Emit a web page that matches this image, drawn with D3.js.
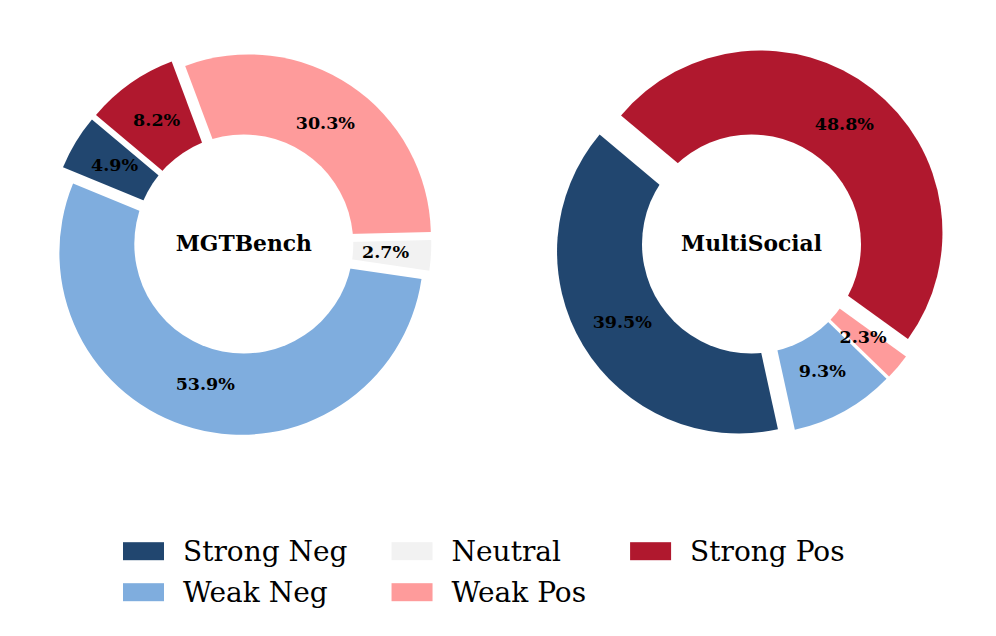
<!DOCTYPE html>
<html>
<head>
<meta charset="utf-8">
<script src="https://cdn.jsdelivr.net/npm/d3@7"></script>
<style>
  html, body { margin: 0; padding: 0; background: #ffffff; }
  svg { display: block; }
</style>
</head>
<body>
<svg id="chart" width="996" height="636"></svg>
<script>
// ---- data ----
const categories = ["Strong Neg", "Weak Neg", "Neutral", "Weak Pos", "Strong Pos"];
const mgtbenchValues = [4.9, 53.9, 2.7, 30.3, 8.2];
const multisocialValues = [39.5, 9.3, 0, 2.3, 48.8];
const datasetNames = ["MGTBench", "MultiSocial"];
const colors = ["#21466f", "#7fadde", "#f2f2f2", "#fe9b9b", "#b0182e"];
const mgtbenchExplode = [0.08, 0.05, 0.03, 0.05, 0.08];
const multisocialExplode = [0.08, 0.05, 0.05, 0.05, 0.08];

// ---- layout ----
const svg = d3.select("#chart");
const R = 182, holeR = 109.5, pctDist = 0.75;
const centers = [[243.8, 244], [751.5, 244]];
const FONT = "'DejaVu Serif', 'Liberation Serif', serif";
const toRad = d => d * Math.PI / 180;
// matplotlib startangle=140, counterclockwise -> d3 angles (clockwise from 12 o'clock)
const start = toRad(90 - 140);
const pie = d3.pie().sort(null).value(d => d.value)
  .startAngle(start).endAngle(start - 2 * Math.PI);
const arc = d3.arc().innerRadius(0).outerRadius(R);
const color = d3.scaleOrdinal().domain(categories).range(colors);

const charts = [
  { name: datasetNames[0], values: mgtbenchValues, explode: mgtbenchExplode },
  { name: datasetNames[1], values: multisocialValues, explode: multisocialExplode }
];

charts.forEach((c, ci) => {
  const data = categories.map((cat, i) => ({ cat, value: c.values[i], explode: c.explode[i] }));
  const arcs = pie(data).filter(a => a.data.value > 0);
  const g = svg.append("g").attr("transform", `translate(${centers[ci][0]},${centers[ci][1]})`);
  const offset = a => {
    const mid = (a.startAngle + a.endAngle) / 2;
    const off = a.data.explode * R;
    return [Math.sin(mid) * off, -Math.cos(mid) * off];
  };

  g.selectAll("path.wedge").data(arcs).join("path").attr("class", "wedge")
    .attr("transform", a => `translate(${offset(a)})`)
    .attr("d", arc).attr("fill", a => color(a.data.cat));

  // white centre circle (donut hole)
  g.append("circle").attr("r", holeR).attr("fill", "#ffffff");

  g.selectAll("text.pct").data(arcs).join("text").attr("class", "pct")
    .attr("x", a => offset(a)[0] + Math.sin((a.startAngle + a.endAngle) / 2) * R * pctDist)
    .attr("y", a => offset(a)[1] - Math.cos((a.startAngle + a.endAngle) / 2) * R * pctDist)
    .attr("dy", "0.32em")
    .attr("text-anchor", "middle")
    .attr("font-family", FONT).attr("font-weight", "bold").attr("font-size", 17.5)
    .attr("fill", "#000")
    .text(a => a.data.value.toFixed(1) + "%");

  g.append("text").attr("x", 0).attr("y", 0).attr("dy", "0.3em")
    .attr("text-anchor", "middle")
    .attr("font-family", FONT).attr("font-weight", "bold").attr("font-size", 21.8)
    .attr("fill", "#000").text(c.name);
});

// ---- legend (3 columns, column-major) ----
const legend = svg.append("g");
const nRows = 2;
const rowBase = [560.7, 601.7];
let colX = 123;
const nCols = Math.ceil(categories.length / nRows);
for (let col = 0; col < nCols; col++) {
  let maxW = 0;
  for (let row = 0; row < nRows; row++) {
    const idx = col * nRows + row;
    if (idx >= categories.length) break;
    legend.append("rect")
      .attr("x", colX).attr("y", rowBase[row] - 18.5)
      .attr("width", 41).attr("height", 18)
      .attr("fill", color(categories[idx]));
    const t = legend.append("text")
      .attr("x", colX + 60).attr("y", rowBase[row])
      .attr("font-family", FONT).attr("font-size", 28).attr("fill", "#000")
      .text(categories[idx]);
    maxW = Math.max(maxW, t.node().getComputedTextLength());
  }
  colX = colX + 60 + maxW + 44;
}
</script>
</body>
</html>
